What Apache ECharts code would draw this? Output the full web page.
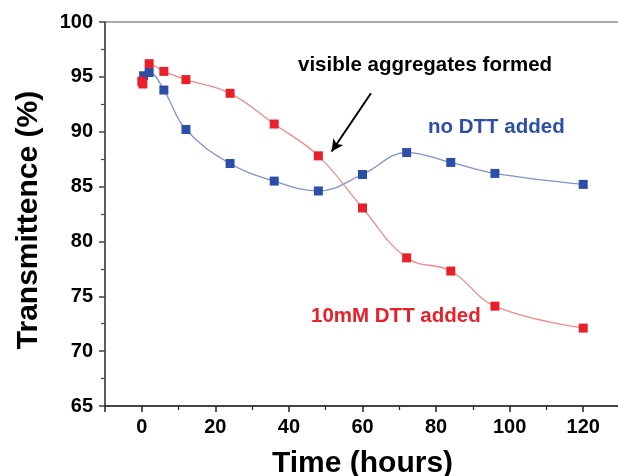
<!DOCTYPE html>
<html>
<head>
<meta charset="utf-8">
<script src="https://cdn.jsdelivr.net/npm/echarts@6/dist/echarts.min.js"></script>
<style>
  html, body { margin: 0; padding: 0; background: #fff; }
  #chart { width: 618px; height: 476px; }
</style>
</head>
<body>
<div id="chart"></div>
<script>
// time points (hours) and transmittance (%)
var noDttTime = [0.5, 2, 6, 12, 24, 36, 48, 60, 72, 84, 96, 120];
var noDttValue = [95.1, 95.4, 93.8, 90.2, 87.1, 85.5, 84.6, 86.1, 88.1, 87.2, 86.2, 85.2];
var dttTime = [0, 0.3, 2, 6, 12, 24, 36, 48, 60, 72, 84, 96, 120];
var dttValue = [94.6, 94.35, 96.2, 95.5, 94.75, 93.5, 90.7, 87.8, 83.05, 78.5, 77.3, 74.1, 72.1];
// arrow for the "visible aggregates formed" note, in data units [time, %]
var arrowFrom = [62.3, 93.5];
var arrowTo = [51.6, 88.2];

function pairs(xs, ys) {
    return xs.map(function (x, i) { return [x, ys[i]]; });
}

var chart = echarts.init(document.getElementById('chart'));
var font = '"Liberation Sans", Arial, sans-serif';

var option = {
    backgroundColor: '#fff',
    animation: false,
    textStyle: { fontFamily: font },
    grid: {
        left: 105,
        width: 515,
        top: 22,
        bottom: 70,
        outerBoundsMode: 'none',
        containLabel: false,
        show: true,
        borderColor: '#aaa',
        borderWidth: 2
    },
    xAxis: {
        type: 'value',
        min: -10,
        max: 130,
        splitNumber: 7,
        name: 'Time (hours)',
        nameLocation: 'middle',
        nameGap: 43,
        nameTextStyle: { fontSize: 30, fontWeight: 'bold', color: '#000', fontFamily: font },
        axisLine: { onZero: false, lineStyle: { color: '#222', width: 1.5 } },
        axisTick: { length: 6, lineStyle: { color: '#222', width: 1.5 } },
        minorTick: { show: true, splitNumber: 2, length: 4, lineStyle: { color: '#222', width: 1.2 } },
        axisLabel: {
            showMinLabel: false,
            showMaxLabel: false,
            margin: 11,
            fontSize: 20,
            fontWeight: 'bold',
            color: '#000',
            fontFamily: font
        },
        splitLine: { show: false }
    },
    yAxis: {
        type: 'value',
        min: 65,
        max: 100,
        interval: 5,
        name: 'Transmittence (%)',
        nameLocation: 'middle',
        nameGap: 61,
        nameTextStyle: { fontSize: 30, fontWeight: 'bold', color: '#000', fontFamily: font, padding: [0, 12, 0, 0] },
        axisLine: { onZero: false, lineStyle: { color: '#444', width: 1.5 } },
        axisTick: { length: 6, lineStyle: { color: '#444', width: 1.5 } },
        minorTick: { show: true, splitNumber: 2, length: 4, lineStyle: { color: '#444', width: 1.2 } },
        axisLabel: {
            margin: 12,
            fontSize: 20,
            fontWeight: 'bold',
            color: '#000',
            fontFamily: font
        },
        splitLine: { show: false }
    },
    series: [
        {
            name: 'no DTT added',
            type: 'line',
            data: pairs(noDttTime, noDttValue),
            smooth: 0.4,
            symbol: 'rect',
            symbolSize: 9,
            itemStyle: { color: '#2c4ea8' },
            lineStyle: { color: '#8190cc', width: 1.3 }
        },
        {
            name: '10mM DTT added',
            type: 'line',
            data: pairs(dttTime, dttValue),
            smooth: 0.4,
            symbol: 'rect',
            symbolSize: 9,
            itemStyle: { color: '#e8202a' },
            lineStyle: { color: '#f28a8c', width: 1.3 },
            markLine: {
                silent: true,
                symbol: ['none', 'arrow'],
                symbolSize: [9, 12],
                label: { show: false },
                lineStyle: { color: '#000', width: 2, type: 'solid' },
                data: [[{ coord: arrowFrom }, { coord: arrowTo }]]
            }
        }
    ],
    graphic: [
        {
            type: 'text', left: 298, top: 55,
            style: { text: 'visible aggregates formed', fill: '#000', font: 'bold 20.5px ' + font }
        },
        {
            type: 'text', left: 428, top: 117,
            style: { text: 'no DTT added', fill: '#2c4ea8', font: 'bold 20.5px ' + font }
        },
        {
            type: 'text', left: 311, top: 306,
            style: { text: '10mM DTT added', fill: '#e8202a', font: 'bold 20.5px ' + font }
        }
    ]
};
chart.setOption(option);
</script>
</body>
</html>
